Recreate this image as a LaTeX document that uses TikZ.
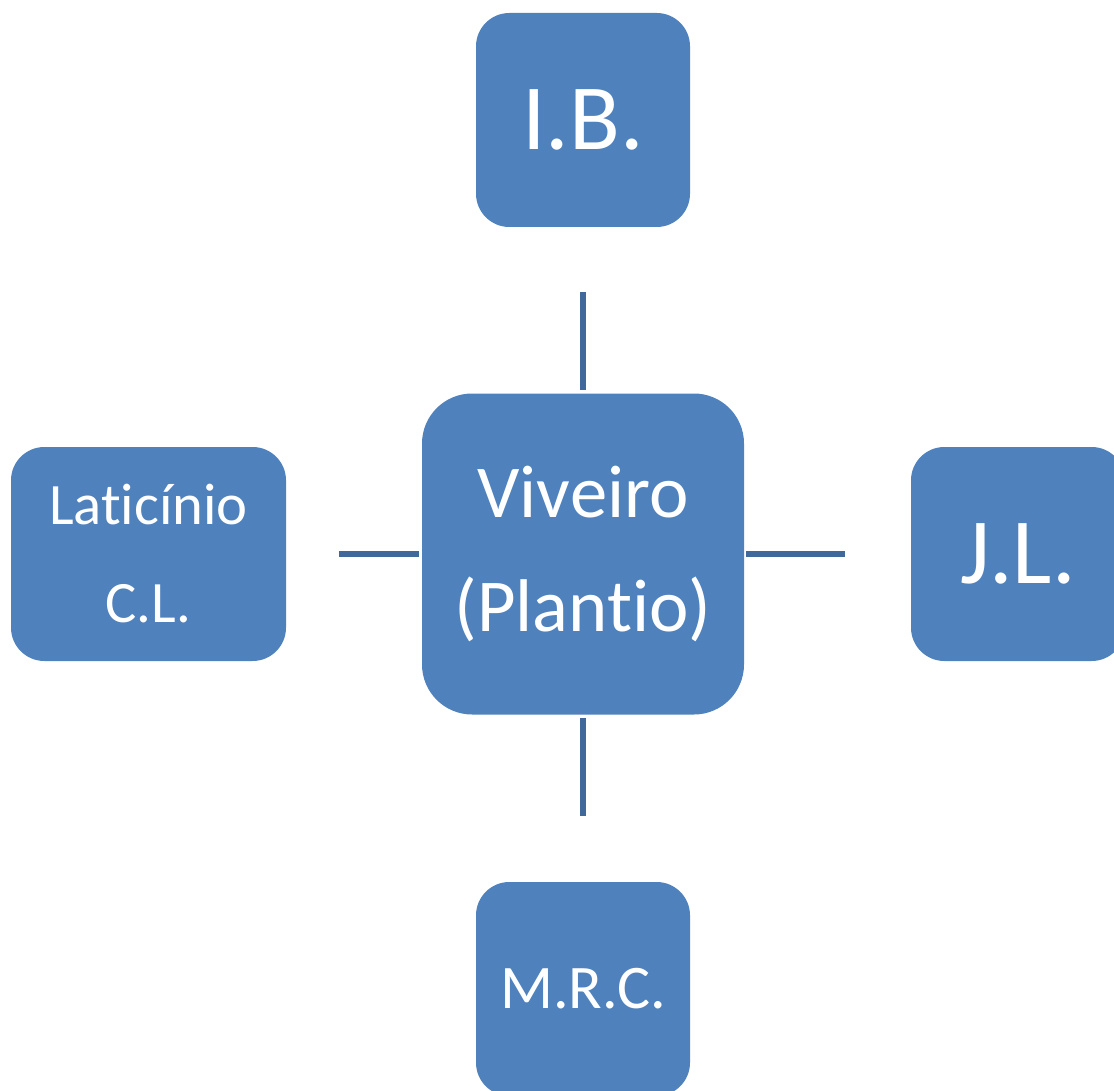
\documentclass[tikz,border=0pt]{standalone}
\usepackage{fontspec}
\setmainfont{Carlito}[Ligatures={NoCommon,NoRequired,NoContextual}]
\begin{document}
\begin{tikzpicture}[x=0.75pt,y=-0.75pt,
  box/.style={fill=boxblue,draw=none,text=white,inner sep=0pt,align=center,
    minimum width=160.5pt,minimum height=160.5pt,rounded corners=25pt},
  link/.style={draw=linkblue,line width=4pt}]
\definecolor{boxblue}{HTML}{4F81BD}
\definecolor{linkblue}{HTML}{41689A}
\useasboundingbox (0,0) rectangle (1114,1091);
\clip (0,0) rectangle (1114,1091);

% central box
\node[box,minimum width=241.5pt,minimum height=240.75pt,rounded corners=37.5pt,
  font=\fontsize{56}{85.5}\selectfont] (viv) at (583,554) {Viveiro\\(Plantio)};

% surrounding boxes
\node[box,font=\fontsize{70}{84}\selectfont] (ib) at (583,120) {I.B.};
\node[box,minimum width=206.25pt,font=\fontsize{44}{73.5}\selectfont] (lat) at (148.5,554) {Laticínio\\C.L.};
\node[box,font=\fontsize{70}{84}\selectfont] (jl) at (1018,554) {J.L.};
\node[box,font=\fontsize{46.5}{56}\selectfont] (mrc) at (583,989) {M.R.C.};

% connectors
\draw[link,shorten <=2.25pt,shorten >=48.75pt] (viv.north) -- (ib.south);
\draw[link,shorten <=2.25pt,shorten >=49.5pt] (viv.south) -- (mrc.north);
\draw[link,shorten <=2.25pt,shorten >=39.75pt] (viv.west) -- (lat.east);
\draw[link,shorten <=1.5pt,shorten >=49.5pt] (viv.east) -- (jl.west);
\end{tikzpicture}
\end{document}
